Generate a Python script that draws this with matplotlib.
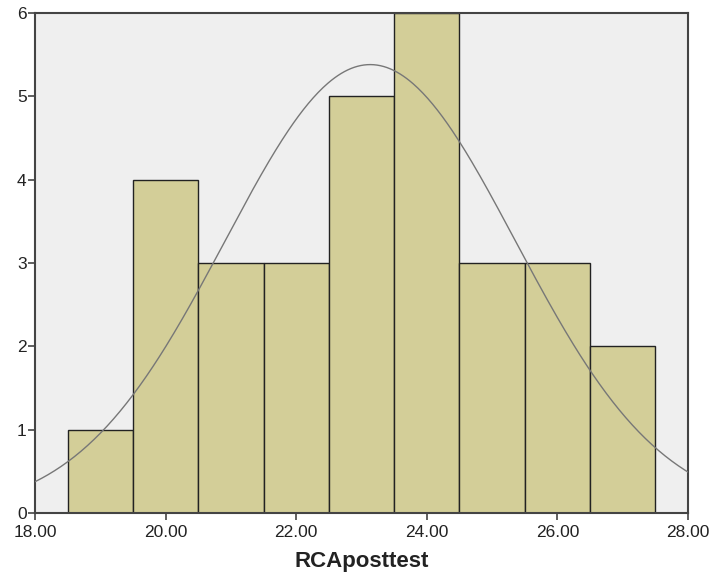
import numpy as np
import matplotlib
matplotlib.use("Agg")
import matplotlib.pyplot as plt

plt.rcParams['font.family'] = ['Liberation Sans', 'DejaVu Sans']

# histogram de RCAposttest (estilo SPSS)
bin_centers = [19, 20, 21, 22, 23, 24, 25, 26, 27]
counts = [1, 4, 3, 3, 5, 6, 3, 3, 2]
bin_width = 1.0
x_ticks = [18, 20, 22, 24, 26, 28]
y_ticks = [0, 1, 2, 3, 4, 5, 6]

# media e desvio a partir das contagens
valores = np.repeat(bin_centers, counts)
media = valores.mean()
desvio = valores.std(ddof=1)
n = len(valores)

fig = plt.figure(figsize=(7.11, 5.76), dpi=100)
ax = fig.add_axes([35 / 711, 63 / 576, 653 / 711, 500 / 576])
ax.set_facecolor("#efefef")

ax.bar(bin_centers, counts, width=bin_width, color="#d3ce98",
       edgecolor="#222222", linewidth=1.0, zorder=2)

xs = np.linspace(18, 28, 400)
ys = n * bin_width / (desvio * np.sqrt(2 * np.pi)) * np.exp(-0.5 * ((xs - media) / desvio) ** 2)
ax.plot(xs, ys, color="#777777", linewidth=1.0, zorder=3)

ax.set_xlim(18, 28)
ax.set_ylim(0, 6)
ax.set_xticks(x_ticks)
ax.set_xticklabels(["%.2f" % v for v in x_ticks])
ax.set_yticks(y_ticks)
for s in ax.spines.values():
    s.set_color("#444444")
    s.set_linewidth(1.5)
ax.tick_params(axis="both", colors="#444444", labelcolor="#222222", labelsize=12.5,
               length=5, width=1.2)
ax.tick_params(axis="y", pad=1)
ax.set_xlabel("RCAposttest", fontsize=16, fontweight="bold", color="#222222", labelpad=8)

fig.savefig("out.png", dpi=100)
